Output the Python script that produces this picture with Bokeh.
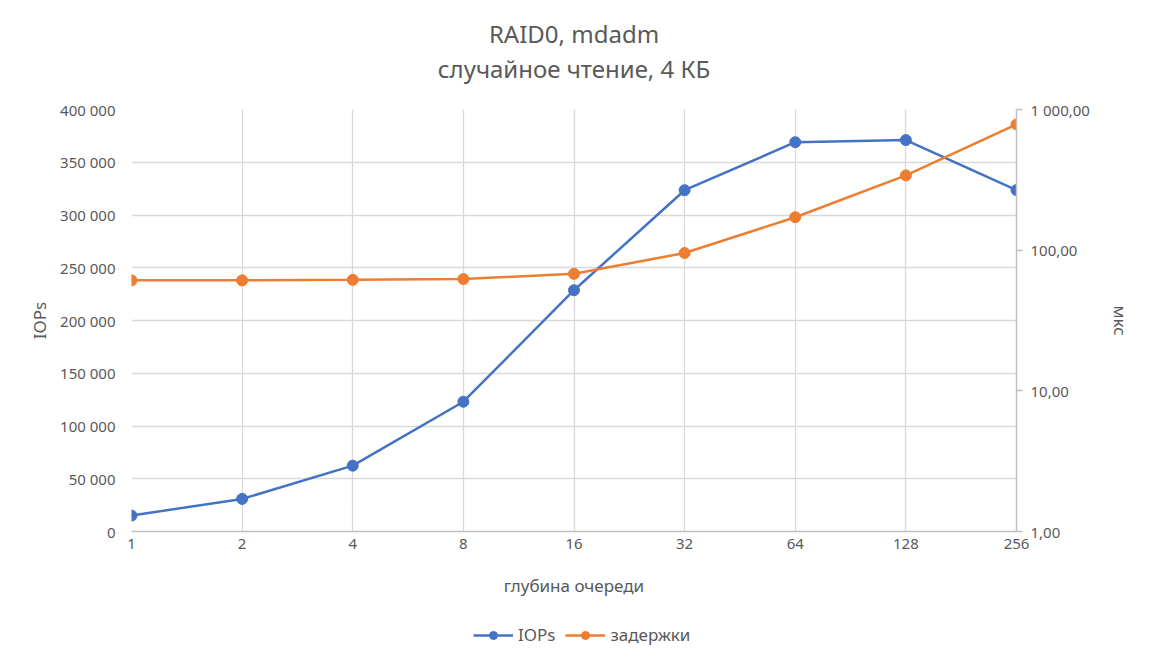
from bokeh.plotting import figure
from bokeh.layouts import column
from bokeh.models import (Range1d, LogAxis, LogScale, FixedTicker, CustomJSTickFormatter,
                          Legend, LegendItem, Title)
from bokeh.embed import file_html
from bokeh.resources import INLINE

categories = ["1", "2", "4", "8", "16", "32", "64", "128", "256"]
iops = [15100, 30900, 62400, 123000, 228700, 323500, 369000, 371000, 323600]
latency = [61.0, 61.0, 61.5, 62.3, 67.9, 95.5, 171.5, 340.0, 783.0]
left_ticks = [0, 50000, 100000, 150000, 200000, 250000, 300000, 350000, 400000]
right_ticks = [1, 10, 100, 1000]
series_names = ["IOPs", "задержки"]

FONT = "Noto Sans"
GREY = "#595959"
BLUE = "#4472C4"
ORANGE = "#ED7D31"

x = list(range(len(categories)))

W = 1135
MAIN_H = 617
LEG_H = 35

p = figure(width=W, height=MAIN_H, output_backend="svg", toolbar_location=None,
           x_range=Range1d(0, len(categories) - 1), y_range=Range1d(0, 400000),
           min_border_left=131, min_border_right=119, min_border_top=109, min_border_bottom=86)
p.extra_y_ranges = {"lat": Range1d(1, 1000)}
p.extra_y_scales = {"lat": LogScale()}
p.outline_line_color = None
p.background_fill_color = "white"
p.border_fill_color = "white"

# titles (spacer nearest the frame, then subtitle, then main title outermost)
p.title.text = "RAID0, mdadm"
p.title.align = "center"
p.title.text_font = FONT
p.title.text_font_size = "24px"
p.title.text_font_style = "normal"
p.title.text_color = GREY
p.title.standoff = 0
spacer = Title(text=" ", text_font_size="1px", standoff=22, text_color="white")
p.add_layout(spacer, "above")
t2 = Title(text="случайное чтение, 4 КБ", align="center", text_font=FONT, text_font_size="24px",
           text_font_style="normal", text_color=GREY, standoff=0)
p.add_layout(t2, "above")

# x axis
xa = p.xaxis[0]
xa.ticker = FixedTicker(ticks=x)
xa.major_label_overrides = {i: c for i, c in zip(x, categories)}
xa.axis_label = "глубина очереди"
xa.axis_label_text_font = FONT
xa.axis_label_text_font_size = "17px"
xa.axis_label_text_font_style = "normal"
xa.axis_label_text_color = GREY
xa.axis_label_standoff = 22
xa.major_label_text_font = FONT
xa.major_label_text_font_size = "15px"
xa.major_label_text_color = GREY
xa.major_label_standoff = 7
xa.major_tick_out = 0
xa.major_tick_in = 0
xa.axis_line_color = "#BFBFBF"
xa.axis_line_width = 1.5
xa.major_tick_line_color = None
xa.minor_tick_line_color = None

# left axis
ya = p.yaxis[0]
ya.ticker = FixedTicker(ticks=left_ticks)
ya.formatter = CustomJSTickFormatter(code="""
return Math.round(tick).toString().replace(/\\B(?=(\\d{3})+(?!\\d))/g, ' ');
""")
ya.axis_label = "IOPs"
ya.axis_label_text_font = FONT
ya.axis_label_text_font_size = "17px"
ya.axis_label_text_font_style = "normal"
ya.axis_label_text_color = GREY
ya.axis_label_standoff = 6
ya.major_label_text_font = FONT
ya.major_label_text_font_size = "15px"
ya.major_label_text_color = GREY
ya.major_label_standoff = 16
ya.major_tick_out = 0
ya.major_tick_in = 0
ya.axis_line_color = None
ya.major_tick_line_color = None
ya.minor_tick_line_color = None

# right axis
ra = LogAxis(y_range_name="lat", ticker=FixedTicker(ticks=right_ticks))
ra.formatter = CustomJSTickFormatter(code="""
const s = tick.toFixed(2).split('.');
s[0] = s[0].replace(/\\B(?=(\\d{3})+(?!\\d))/g, ' ');
return s.join(',');
""")
ra.axis_label = "мкс"
ra.axis_label_text_font = FONT
ra.axis_label_text_font_size = "17px"
ra.axis_label_text_font_style = "normal"
ra.axis_label_text_color = GREY
ra.axis_label_standoff = 16
ra.major_label_text_font = FONT
ra.major_label_text_font_size = "15px"
ra.major_label_text_color = GREY
ra.major_label_standoff = 8
ra.axis_line_color = "#BFBFBF"
ra.axis_line_width = 1.5
ra.major_tick_line_color = "#BFBFBF"
ra.major_tick_line_width = 1.5
ra.major_tick_out = 6
ra.major_tick_in = 0
ra.minor_tick_line_color = None
p.add_layout(ra, "right")

# grids
p.xgrid.grid_line_color = "#D9D9D9"
p.xgrid.grid_line_width = 1.3
p.ygrid.grid_line_color = "#D9D9D9"
p.ygrid.grid_line_width = 1.3

# series
p.line(x, iops, line_color=BLUE, line_width=2.5)
p.scatter(x, iops, size=11, fill_color=BLUE, line_color=BLUE)
p.line(x, latency, line_color=ORANGE, line_width=2.5, y_range_name="lat")
p.scatter(x, latency, size=11, fill_color=ORANGE, line_color=ORANGE, y_range_name="lat")

# legend strip (separate figure so the legend sits below the axis title);
# its ranges keep the series themselves out of view, only the legend shows
lf = figure(width=W, height=LEG_H, output_backend="svg", toolbar_location=None,
            x_axis_location=None, y_axis_location=None, min_border=0,
            x_range=Range1d(-20, -19), y_range=Range1d(-20, -19))
lf.outline_line_color = None
lf.grid.visible = False
items = []
for name, col, vals in zip(series_names, [BLUE, ORANGE], [iops, latency]):
    lr = lf.line(x, vals, line_color=col, line_width=2.5)
    sr = lf.scatter(x, vals, size=11, fill_color=col, line_color=col)
    items.append(LegendItem(label=name, renderers=[lr, sr]))
legend = Legend(items=items, orientation="horizontal", location=(342, 6),
                label_text_font=FONT, label_text_font_size="17px", label_text_color=GREY,
                glyph_width=40, glyph_height=20, label_standoff=5, spacing=10,
                padding=0, margin=0, border_line_color=None, background_fill_alpha=0)
lf.add_layout(legend, "center")

open("out.html", "w").write(file_html(column(p, lf, spacing=0), INLINE))
